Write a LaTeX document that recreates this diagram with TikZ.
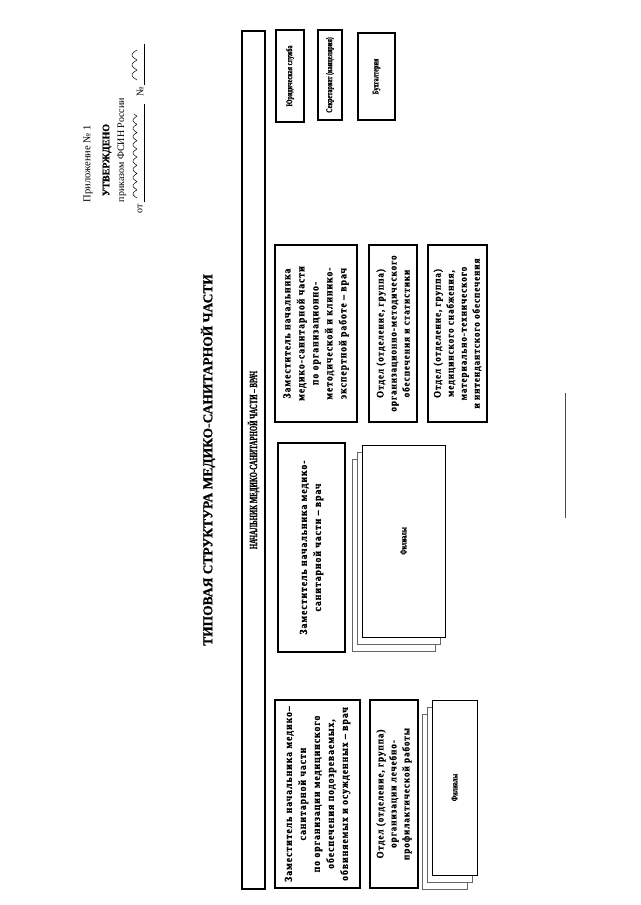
\documentclass[tikz,border=0pt]{standalone}
\usepackage{fontspec}
\setmainfont{Liberation Serif}[BoldFeatures={FakeBold=0.8}]
\newfontfamily\spacedfont[LetterSpace=9, FakeStretch=0.9, BoldFeatures={FakeBold=0.8}]{Liberation Serif}
\newfontfamily\condfont[FakeStretch=0.62, BoldFeatures={FakeBold=0.8}]{Liberation Serif}
\newfontfamily\smallcond[FakeStretch=0.72, BoldFeatures={FakeBold=0.8}]{Liberation Serif}
\begin{document}
\begin{tikzpicture}[x=1pt,y=-1pt,
  rot/.style={rotate=90, inner sep=0pt},
  boxbase/.style={draw, rotate=90, inner sep=0pt, align=center, fill=white},
  thickbox/.style={boxbase, line width=1.8pt},
  mainbox/.style={thickbox, font=\spacedfont\bfseries\fontsize{10.8}{14}\selectfont},
  smallbox/.style={thickbox, font=\smallcond\bfseries\fontsize{8.6}{10}\selectfont},
  deptbox/.style={boxbase, line width=1.1pt, font=\spacedfont\bfseries\fontsize{10.2}{13}\selectfont},
  filbox/.style={boxbase, line width=0.9pt, font=\smallcond\bfseries\fontsize{8.6}{10}\selectfont},
  backbox/.style={draw=black!60, line width=0.6pt, fill=white}
]
\useasboundingbox (0,0) rectangle (640,905);
\fill[white] (0,0) rectangle (640,905);

% approval block
\node[rot, font=\fontsize{10.5}{12}\selectfont] (appx) at (88,164) {Приложение № 1};
\node[rot, font=\bfseries\fontsize{10}{12}\selectfont] (appr) at (107,160) {УТВЕРЖДЕНО};
\node[rot, font=\fontsize{10}{12}\selectfont] (order) at (122,150) {приказом ФСИН России};
\node[rot, font=\fontsize{10}{12}\selectfont] (ot) at (140,209) {от};
\node[rot, font=\fontsize{10}{12}\selectfont] (no) at (140,92) {№};
\draw[line width=0.6pt] (144,202) -- (144,104);
\draw[line width=0.6pt] (144,85) -- (144,44);
\draw[line width=0.5pt] plot[domain=0:84, samples=200, smooth] ({137 - 4*abs(sin(\x*22))}, {198 - \x});
\draw[line width=0.5pt] plot[domain=0:30, samples=80, smooth] ({137 - 5*abs(sin(\x*18))}, {80 - \x});

% title
\node[rot, font=\bfseries\fontsize{13.5}{16}\selectfont] (title) at (208,460) {ТИПОВАЯ СТРУКТУРА МЕДИКО-САНИТАРНОЙ ЧАСТИ};

% head
\node[thickbox, minimum width=858pt, minimum height=23pt, font=\condfont\bfseries\fontsize{11}{12}\selectfont] (head) at (253.5,460) {НАЧАЛЬНИК МЕДИКО-САНИТАРНОЙ ЧАСТИ – ВРАЧ};

% small services
\node[smallbox, minimum width=92pt, minimum height=28pt] (jur) at (290,76) {Юридическая служба};
\node[smallbox, minimum width=90pt, minimum height=24pt] (sec) at (330,75) {Секретариат (канцелярия)};
\node[smallbox, minimum width=87pt, minimum height=37pt] (acc) at (376.5,76.5) {Бухгалтерия};

% deputies
\node[mainbox, minimum width=177pt, minimum height=82pt] (depA) at (316,333.5)
  {Заместитель начальника\\медико-санитарной части\\по организационно-\\методической и клинико-\\экспертной работе – врач};
\node[mainbox, minimum width=209pt, minimum height=67pt] (depB) at (311.5,547.5)
  {Заместитель начальника медико-\\санитарной части – врач};
\node[mainbox, minimum width=188pt, minimum height=85pt] (depC) at (317.5,794)
  {Заместитель начальника медико–\\санитарной части\\по организации медицинского\\обеспечения подозреваемых,\\обвиняемых и осужденных – врач};

% departments
\node[deptbox, minimum width=177pt, minimum height=48pt] (otdA) at (393,333.5)
  {Отдел (отделение, группа)\\организационно-методического\\обеспечения и статистики};
\node[deptbox, minimum width=177pt, minimum height=59pt] (otdB) at (457.5,333.5)
  {Отдел (отделение, группа)\\медицинского снабжения,\\материально-технического\\и интендантского обеспечения};
\node[deptbox, minimum width=188pt, minimum height=48pt] (otdC) at (394,794)
  {Отдел (отделение, группа)\\организации лечебно-\\профилактической работы};

% branches (middle)
\draw[backbox] (352,459) rectangle (435,651);
\draw[backbox] (357,452) rectangle (440,644);
\node[filbox, minimum width=192pt, minimum height=83pt] (filB) at (403.5,541) {Филиалы};

% branches (bottom)
\draw[backbox] (422,714) rectangle (467,889);
\draw[backbox] (427,707) rectangle (472,882);
\node[filbox, minimum width=175pt, minimum height=45pt] (filC) at (454.5,787.5) {Филиалы};

% signature line
\coordinate (sa) at (565,393);
\coordinate (sb) at (565,518);
\draw[line width=0.8pt, black!70] (sa) -- (sb);
\end{tikzpicture}
\end{document}
